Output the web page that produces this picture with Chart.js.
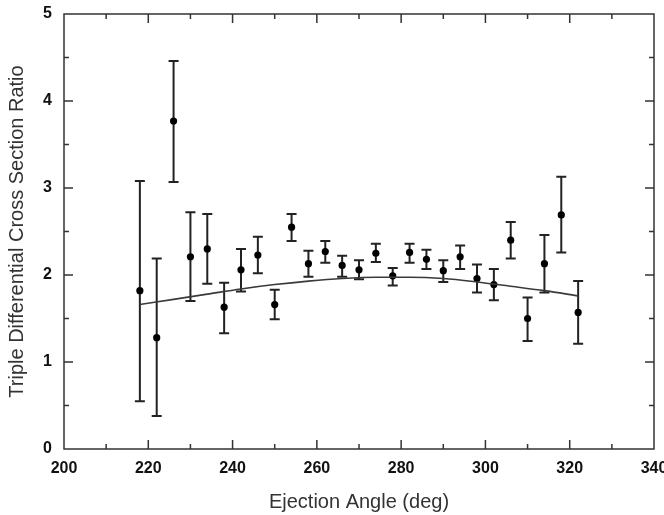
<!DOCTYPE html>
<html>
<head>
<meta charset="utf-8">
<script src="https://cdn.jsdelivr.net/npm/chart.js@4"></script>
<style>
  html, body { margin: 0; padding: 0; background: #fff; }
  canvas { display: block; }
</style>
</head>
<body>
<canvas id="tdcsChart" width="664" height="515"></canvas>
<script>
// ==================== DATA ====================
const angles = [218, 222, 226, 230, 234, 238, 242, 246, 250, 254, 258, 262, 266, 270,
                274, 278, 282, 286, 290, 294, 298, 302, 306, 310, 314, 318, 322];
const ratios = [1.82, 1.28, 3.77, 2.21, 2.30, 1.63, 2.06, 2.23, 1.66, 2.55, 2.13, 2.27, 2.11, 2.06,
                2.25, 1.99, 2.26, 2.18, 2.05, 2.21, 1.96, 1.89, 2.40, 1.50, 2.13, 2.69, 1.57];
const errHigh = [3.08, 2.19, 4.46, 2.72, 2.70, 1.91, 2.30, 2.44, 1.83, 2.70, 2.28, 2.39, 2.22, 2.17,
                 2.36, 2.08, 2.36, 2.29, 2.17, 2.34, 2.12, 2.07, 2.61, 1.74, 2.46, 3.13, 1.93];
const errLow = [0.55, 0.38, 3.07, 1.70, 1.90, 1.33, 1.81, 2.02, 1.49, 2.39, 1.98, 2.14, 1.98, 1.95,
                2.15, 1.88, 2.14, 2.07, 1.92, 2.07, 1.80, 1.71, 2.19, 1.24, 1.80, 2.26, 1.21];

// theory curve
const fitAngles = [218, 226, 234, 242, 250, 258, 266, 274, 282, 290, 298, 306, 314, 322];
const fitValues = [1.66, 1.72, 1.78, 1.84, 1.89, 1.93, 1.96, 1.975, 1.975, 1.96, 1.92, 1.87, 1.82, 1.76];

const xRange = [200, 340];
const yRange = [0, 5];
const xMajor = 20, xMinor = 10;
const yMajor = 1, yMinor = 0.5;

// ==================== PLUGINS ====================
// vertical error bars with caps
const errorBars = {
    id: 'errorBars',
    beforeDatasetsDraw(chart) {
        const { ctx, scales: { x, y } } = chart;
        ctx.save();
        ctx.strokeStyle = '#222';
        ctx.lineWidth = 2;
        angles.forEach((a, i) => {
            const px = x.getPixelForValue(a);
            const top = y.getPixelForValue(errHigh[i]);
            const bot = y.getPixelForValue(errLow[i]);
            ctx.beginPath();
            ctx.moveTo(px, top);
            ctx.lineTo(px, bot);
            ctx.moveTo(px - 5, top);
            ctx.lineTo(px + 5, top);
            ctx.moveTo(px - 5, bot);
            ctx.lineTo(px + 5, bot);
            ctx.stroke();
        });
        ctx.restore();
    }
};

// box frame with inward ticks on all four sides
const frameTicks = {
    id: 'frameTicks',
    afterDraw(chart) {
        const { ctx, chartArea: a, scales: { x, y } } = chart;
        ctx.save();
        ctx.strokeStyle = '#333';
        ctx.lineWidth = 1.5;
        ctx.strokeRect(a.left, a.top, a.right - a.left, a.bottom - a.top);
        ctx.beginPath();
        for (let v = xRange[0] + xMinor; v < xRange[1]; v += xMinor) {
            const len = (v % xMajor === 0) ? 9 : 5;
            const px = x.getPixelForValue(v);
            ctx.moveTo(px, a.bottom); ctx.lineTo(px, a.bottom - len);
            ctx.moveTo(px, a.top); ctx.lineTo(px, a.top + len);
        }
        for (let v = yRange[0] + yMinor; v < yRange[1]; v += yMinor) {
            const len = (Math.abs(v % yMajor) < 1e-6) ? 9 : 5;
            const py = y.getPixelForValue(v);
            ctx.moveTo(a.left, py); ctx.lineTo(a.left + len, py);
            ctx.moveTo(a.right, py); ctx.lineTo(a.right - len, py);
        }
        ctx.stroke();
        ctx.restore();
    }
};

// ==================== CHART ====================
const tickFont = { family: "'Liberation Sans', Arial, sans-serif", size: 16, weight: 'bold' };
const titleFont = { family: "'Liberation Sans', Arial, sans-serif", size: 20, weight: 'normal' };

const ctx = document.getElementById('tdcsChart').getContext('2d');
new Chart(ctx, {
    type: 'scatter',
    data: {
        datasets: [
            {
                label: 'Theory',
                type: 'line',
                data: fitAngles.map((a, i) => ({ x: a, y: fitValues[i] })),
                borderColor: '#3a3a3a',
                borderWidth: 1.6,
                pointRadius: 0,
                fill: false,
                cubicInterpolationMode: 'monotone'
            },
            {
                label: 'Experiment',
                data: angles.map((a, i) => ({ x: a, y: ratios[i] })),
                backgroundColor: '#000',
                borderColor: '#000',
                pointRadius: 3.6,
                pointBorderWidth: 0
            }
        ]
    },
    options: {
        responsive: false,
        animation: false,
        layout: { padding: { top: 14, right: 10, left: 0, bottom: 0 } },
        plugins: {
            legend: { display: false },
            tooltip: { enabled: false }
        },
        scales: {
            x: {
                type: 'linear',
                min: xRange[0],
                max: xRange[1],
                afterFit: (scale) => {
                    scale.height = 66;
                    scale.paddingLeft = 0;
                    scale.paddingRight = 0;
                },
                grid: { display: false, drawTicks: false },
                border: { display: false },
                ticks: {
                    stepSize: xMajor,
                    autoSkip: false,
                    maxRotation: 0,
                    padding: 10,
                    color: '#111',
                    font: tickFont
                },
                title: {
                    display: true,
                    text: 'Ejection Angle (deg)',
                    color: '#333',
                    font: titleFont,
                    padding: { top: 0, bottom: 1 }
                }
            },
            y: {
                min: yRange[0],
                max: yRange[1],
                afterFit: (scale) => {
                    scale.width = 64;
                    scale.paddingTop = 0;
                    scale.paddingBottom = 0;
                },
                grid: { display: false, drawTicks: false },
                border: { display: false },
                ticks: {
                    stepSize: yMajor,
                    padding: 12,
                    color: '#111',
                    font: tickFont
                },
                title: {
                    display: true,
                    text: 'Triple Differential Cross Section Ratio',
                    color: '#333',
                    font: titleFont,
                    padding: { top: 5, bottom: 0 }
                }
            }
        }
    },
    plugins: [errorBars, frameTicks]
});
</script>
</body>
</html>
